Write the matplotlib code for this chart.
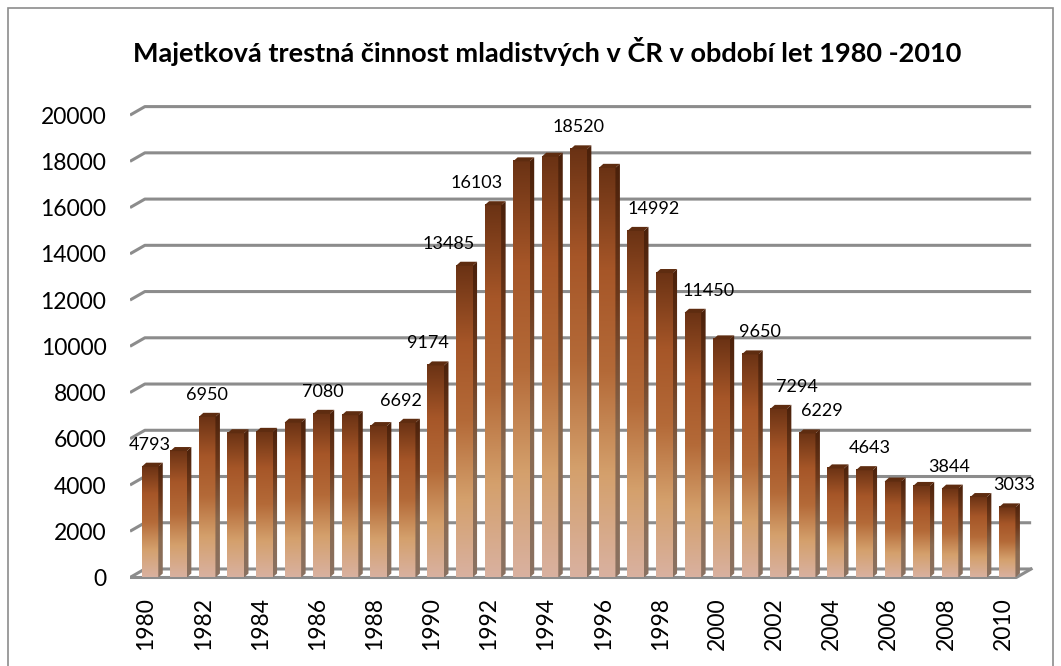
# Majetkova trestna cinnost mladistvych - 3D sloupcovy graf

import numpy as np
import matplotlib.pyplot as plt
from matplotlib.colors import LinearSegmentedColormap
from matplotlib.patches import Polygon, Rectangle

# data
roky = list(range(1980, 2011))
pocty = [4793, 5470, 6950, 6240, 6300, 6700, 7080, 7020, 6550, 6692,
         9174, 13485, 16103, 18000, 18200, 18520, 17720, 14992, 13170, 11450,
         10300, 9650, 7294, 6229, 4720, 4643, 4150, 3960, 3844, 3480, 3033]
roky_popisky = [1980, 1982, 1986, 1989, 1990, 1991, 1992, 1995, 1997,
                1999, 2001, 2002, 2003, 2005, 2008, 2010]
y_ticks = list(range(0, 20001, 2000))

# posun popisku vodorovne (px)
posun = [0, 0, 1, -6, -8, -16, -16, 0, 18, 16, 10, 18, 15, 5, -1, 7]

titulek = 'Majetková trestná činnost mladistvých v ČR v období let 1980 -2010'

# barvy
predni = LinearSegmentedColormap.from_list(
    'predni', ['#d9b1a0', '#d4a06c', '#b46a38', '#a65628', '#6a3214'])
bocni = LinearSegmentedColormap.from_list(
    'bocni', ['#8a7262', '#8a6a50', '#6e3a1c', '#4a200a'])
barva_mrizky = '#8c8c8c'

# 3D posuny (v datovych jednotkach)
hl_x = 0.52      # hloubka zadni steny
hl_y = 368
w = 0.29         # polovina sirky sloupce
bx = 0.157       # bocni strana
by = 173

fig = plt.figure(figsize=(10.61, 6.66), dpi=100)
fig.patches.append(Rectangle((8 / 1061, -0.01), 1045 / 1061, 1 - 8 / 666 + 0.01,
                             transform=fig.transFigure, fill=False,
                             edgecolor='#8c8c8c', linewidth=1.2))

ax = fig.add_axes([130 / 1061, 1 - 590 / 666, 910 / 1061, 495 / 666])

xl = -0.7
xr = 30.84

# mrizka na zadni stene
for v in y_ticks:
    ax.plot([xl, xl + hl_x, xr], [v, v + hl_y, v + hl_y],
            color=barva_mrizky, lw=2.2, zorder=1, solid_capstyle='butt')
# predni hrana podlahy
ax.plot([xl, xr - hl_x, xr], [0, 0, hl_y], color=barva_mrizky, lw=2.2, zorder=1)

grad = np.linspace(0, 1, 256).reshape(-1, 1)

for i, v in enumerate(pocty):
    # predni stena
    ax.imshow(grad, cmap=predni, origin='lower', aspect='auto',
              extent=[i - w, i + w, 0, v], interpolation='bilinear', zorder=3)
    # bocni stena
    bok = Polygon([(i + w, 0), (i + w + bx, by), (i + w + bx, v + by), (i + w, v)],
                  closed=True, facecolor='none', edgecolor='none')
    ax.add_patch(bok)
    im = ax.imshow(grad, cmap=bocni, origin='lower', aspect='auto',
                   extent=[i + w, i + w + bx, 0, v + by],
                   interpolation='bilinear', zorder=3)
    im.set_clip_path(bok)
    # horni plocha
    ax.add_patch(Polygon([(i - w, v), (i + w, v), (i + w + bx, v + by), (i - w + bx, v + by)],
                         closed=True, facecolor='#5e2c10', edgecolor='none', zorder=4))

# popisky hodnot
for rok, dx in zip(roky_popisky, posun):
    i = roky.index(rok)
    ax.annotate(str(pocty[i]), xy=(i, pocty[i]), xytext=(dx, 22),
                textcoords='offset pixels', ha='center', va='center',
                fontsize=13, family='Lato', color='black', zorder=5)

ax.set_xlim(xl, 31.15)
ax.set_ylim(-541, 20870)

pozice = [i - 0.14 for i, r in enumerate(roky) if r % 2 == 0]
ax.set_xticks(pozice)
ax.set_xticklabels([str(r) for r in roky if r % 2 == 0], rotation=90,
                   fontsize=16.5, family='Lato')
ax.set_yticks(y_ticks)
ax.set_yticklabels([str(v) for v in y_ticks], fontsize=16.5, family='Lato')
ax.tick_params(axis='x', length=0, pad=5)
ax.tick_params(axis='y', length=0, pad=17)
for s in ax.spines.values():
    s.set_visible(False)

fig.text(547 / 1061, 1 - 52 / 666, titulek, ha='center', va='center',
         fontsize=19.5, fontweight='bold', family='Lato')

fig.savefig('out.png', dpi=100)
